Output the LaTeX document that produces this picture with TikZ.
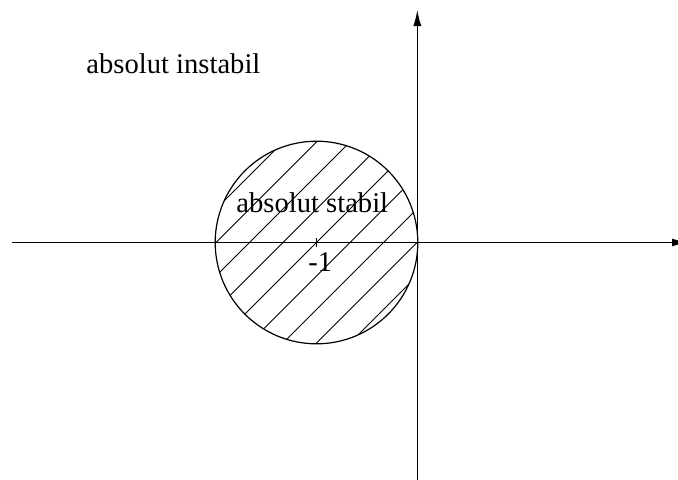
\documentclass[tikz,border=0pt]{standalone}
\usepackage{fontspec}
\setmainfont{Liberation Serif}
\usetikzlibrary{arrows.meta,calc}
\begin{document}
\begin{tikzpicture}[x=0.5pt,y=-0.5pt,
  axis/.style={line width=0.6pt,-{Latex[length=8pt,width=4pt]}},
  lbl/.style={font=\fontsize{14.3pt}{17pt}\selectfont,inner sep=0pt,anchor=base west},
  hatchline/.style={line width=0.5pt}]
\useasboundingbox (0,0) rectangle (678,479);
\coordinate (c) at (316.5,242.5);
% hatching
\begin{scope}
\clip (c) circle[radius=101.3];
\foreach \k in {-5,...,5}{
  \draw[hatchline] ($(c)+(\k*33.5-160,160)$) -- ($(c)+(\k*33.5+160,-160)$);
}
\end{scope}
\draw[line width=0.6pt] (c) circle[radius=101.3];
% axes
\coordinate (xl) at (12,242.5);
\coordinate (xr) at (688,242.5);
\coordinate (yb) at (417.3,485);
\coordinate (yt) at (417.3,10);
\draw[axis] (xl) -- (xr);
\draw[axis] (yb) -- (yt);
% tick
\coordinate (t1) at (316.5,238);
\coordinate (t2) at (316.5,247);
\draw[line width=0.5pt] (t1) -- (t2);
% labels
\node[lbl] (inst) at (86,73) {absolut instabil};
\node[lbl] (stab) at (236,212) {absolut stabil};
\node[lbl] (m1) at (308,271) {-1};
\end{tikzpicture}
\end{document}
